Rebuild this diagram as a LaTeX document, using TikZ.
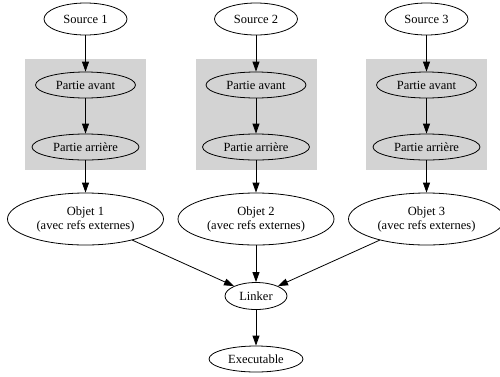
\documentclass[tikz,border=0pt]{standalone}
\usepackage{fontspec}
\setmainfont{Liberation Serif}
\usetikzlibrary{arrows.meta,shapes.geometric}
\definecolor{clusterfill}{HTML}{D3D3D3}
\begin{document}
\begin{tikzpicture}[x=1pt,y=-1pt,
  nd/.style={draw,ellipse,inner sep=0pt,line width=0.8pt,align=center,
    font=\fontsize{12.5}{14}\selectfont},
  src/.style={nd,minimum width=83pt,minimum height=32pt},
  pav/.style={nd,minimum width=100pt,minimum height=26pt},
  par/.style={nd,minimum width=107pt,minimum height=26pt},
  obj/.style={nd,minimum width=156pt,minimum height=52pt},
  edge/.style={line width=0.8pt,-{Triangle[length=10pt,width=7pt]}},
  cluster/.style={fill=clusterfill,draw=none}
]
\useasboundingbox (0,0) rectangle (500,376);
\foreach \cx in {85.5,256,426.5}{
  \fill[cluster] (\cx-60.5,59) rectangle (\cx+60.5,170);
}
% column 1
\node[src] (s1) at (85.5,19) {Source 1};
\node[pav] (a1) at (85.5,85) {Partie avant};
\node[par] (r1) at (85.5,147) {Partie arrière};
\node[obj] (o1) at (85.5,219) {Objet 1\\(avec refs externes)};
% column 2
\node[src] (s2) at (256,19) {Source 2};
\node[pav] (a2) at (256,85) {Partie avant};
\node[par] (r2) at (256,147) {Partie arrière};
\node[obj] (o2) at (256,219) {Objet 2\\(avec refs externes)};
% column 3
\node[src] (s3) at (426.5,19) {Source 3};
\node[pav] (a3) at (426.5,85) {Partie avant};
\node[par] (r3) at (426.5,147) {Partie arrière};
\node[obj] (o3) at (426.5,219) {Objet 3\\(avec refs externes)};
% bottom
\node[nd,minimum width=62pt,minimum height=27pt] (lk) at (256,296) {Linker};
\node[nd,minimum width=94pt,minimum height=26pt] (ex) at (256,359) {Executable};
% edges
\foreach \i in {1,2,3}{
  \draw[edge] (s\i) -- (a\i);
  \draw[edge] (a\i) -- (r\i);
  \draw[edge] (r\i) -- (o\i);
  \draw[edge] (o\i) -- (lk);
}
\draw[edge] (lk) -- (ex);
\end{tikzpicture}
\end{document}
